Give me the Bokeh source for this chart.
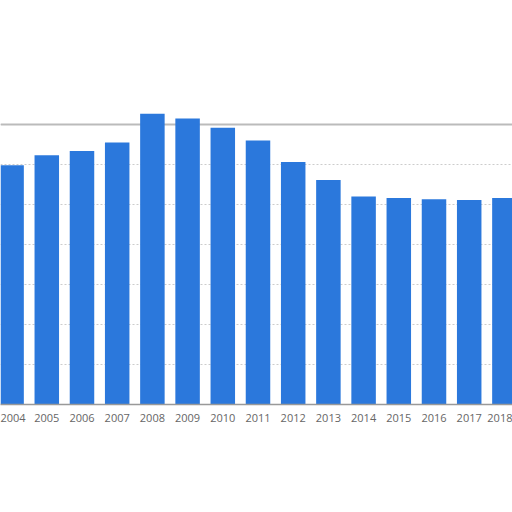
from bokeh.plotting import figure
from bokeh.models import FixedTicker, Span
from bokeh.embed import file_html
from bokeh.resources import INLINE

years = [2004, 2005, 2006, 2007, 2008, 2009, 2010, 2011, 2012, 2013, 2014, 2015, 2016, 2017, 2018]
values = [5.98, 6.23, 6.34, 6.55, 7.27, 7.15, 6.92, 6.60, 6.06, 5.61, 5.20, 5.16, 5.13, 5.11, 5.16]
tick_labels = [str(y) for y in years]
grid_ticks = [0, 1, 2, 3, 4, 5, 6, 7]

p = figure(frame_width=512, frame_height=404, output_backend="svg", toolbar_location=None,
           x_range=(2003.685, 2018.23), y_range=(0, 10.1), min_border=0,
           min_border_left=0, min_border_right=0, min_border_top=0, min_border_bottom=0)

p.vbar(x=years, top=values, width=0.696, color="#2b78dc", line_color=None)

p.yaxis.visible = False
p.xaxis.ticker = FixedTicker(ticks=years)
p.xaxis.major_label_overrides = {y: l for y, l in zip(years, tick_labels)}
p.xaxis.major_tick_out = 0
p.xaxis.major_tick_in = 0
p.xaxis.minor_tick_out = 0
p.xaxis.minor_tick_in = 0
p.xaxis.axis_line_color = "#999999"
p.xaxis.axis_line_width = 1.5
p.xaxis.major_label_text_font = "Open Sans"
p.xaxis.major_label_text_font_size = "11px"
p.xaxis.major_label_text_color = "#666666"
p.xaxis.major_label_standoff = 9

p.xgrid.visible = False
p.ygrid.ticker = FixedTicker(ticks=grid_ticks)
p.ygrid.grid_line_color = "#cccccc"
p.ygrid.grid_line_dash = "2 2"
p.ygrid.grid_line_width = 1

p.add_layout(Span(location=7, dimension="width", line_color="#bbbbbb", line_width=2, level="underlay"))

p.outline_line_color = None
p.background_fill_color = "white"
p.border_fill_color = "white"

open("out.html", "w").write(file_html(p, INLINE))
